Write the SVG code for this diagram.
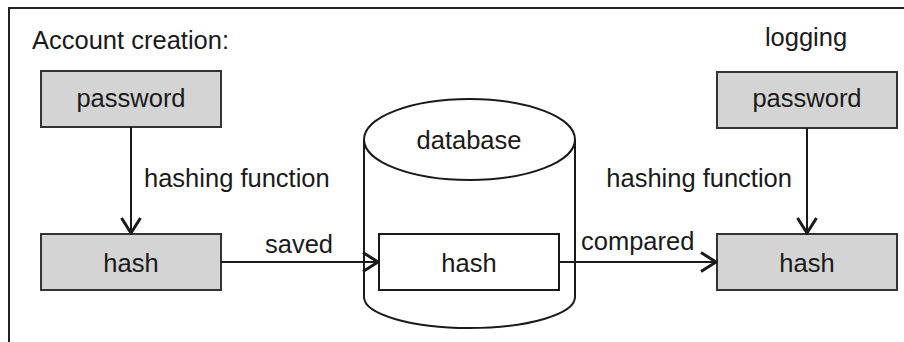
<svg xmlns="http://www.w3.org/2000/svg" width="904" height="342" viewBox="0 0 904 342">
  <defs>
    <style>
      text { font-family: "Liberation Sans", Arial, sans-serif; font-size: 25.5px; fill: #1a1a1a; }
      .c { text-anchor: middle; }
      .box { fill: #d4d4d4; stroke: #333; stroke-width: 2; }
      .wbox { fill: #fff; stroke: #1a1a1a; stroke-width: 2; }
      .cyl { fill: #fff; stroke: #1a1a1a; stroke-width: 2; }
      .edge { fill: none; stroke: #1a1a1a; stroke-width: 2; }
      .frame { fill: none; stroke: #222; stroke-width: 2; }
    </style>
    <marker id="arr" viewBox="0 0 18 22" refX="16.5" refY="11" markerWidth="18" markerHeight="22" markerUnits="userSpaceOnUse" orient="auto">
      <path d="M1.5,1.5 L16.5,11 L1.5,20.5" fill="none" stroke="#1a1a1a" stroke-width="3"/>
    </marker>
  </defs>

  <path class="frame" d="M9,342 V8 H904"/>

  <g id="title-account">
    <text x="32" y="49">Account creation:</text>
  </g>
  <g id="title-logging">
    <text x="806" y="46" class="c">logging</text>
  </g>

  <g id="password-left">
    <rect class="box" x="41" y="71" width="180" height="56"/>
    <text x="131" y="107" class="c">password</text>
  </g>
  <g id="hash-left">
    <rect class="box" x="41" y="234" width="180" height="56"/>
    <text x="131" y="272" class="c">hash</text>
  </g>

  <g id="database">
    <path class="cyl" d="M364,139.5 V297 A105.5 31 0 0 0 575,297 V139.5"/>
    <ellipse class="cyl" cx="469.5" cy="139.5" rx="105.5" ry="40.5"/>
    <text x="469" y="149" class="c">database</text>
  </g>
  <g id="hash-db">
    <rect class="wbox" x="379" y="234" width="180" height="56"/>
    <text x="469" y="272" class="c">hash</text>
  </g>

  <g id="password-right">
    <rect class="box" x="717" y="72" width="180" height="56"/>
    <text x="807" y="107" class="c">password</text>
  </g>
  <g id="hash-right">
    <rect class="box" x="717" y="234" width="180" height="56"/>
    <text x="807" y="272" class="c">hash</text>
  </g>

  <g id="connectors">
    <line class="edge" x1="131" y1="127" x2="131" y2="233" marker-end="url(#arr)"/>
    <line class="edge" x1="807" y1="128" x2="807" y2="233" marker-end="url(#arr)"/>
    <line class="edge" x1="221" y1="262" x2="378" y2="262" marker-end="url(#arr)"/>
    <line class="edge" x1="559" y1="262" x2="716" y2="262" marker-end="url(#arr)"/>
    <text x="144" y="187">hashing function</text>
    <text x="792" y="187" text-anchor="end">hashing function</text>
    <text x="299" y="253" class="c">saved</text>
    <text x="581" y="250">compared</text>
  </g>
</svg>
